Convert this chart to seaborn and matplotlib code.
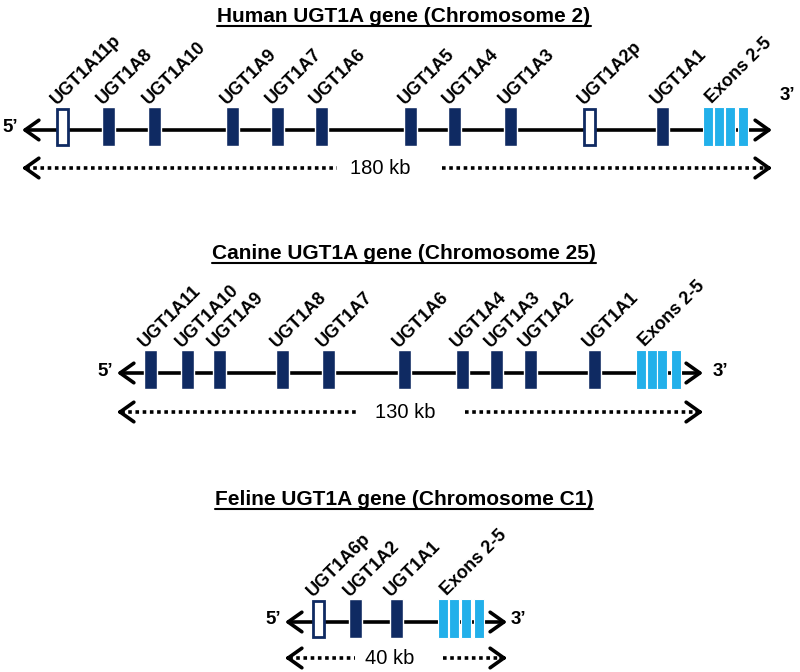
import matplotlib
matplotlib.use("Agg")
import matplotlib.pyplot as plt
import seaborn as sns

# gene loci (horizontal position along each locus map)
human_genes = ["UGT1A11p", "UGT1A8", "UGT1A10", "UGT1A9", "UGT1A7", "UGT1A6",
               "UGT1A5", "UGT1A4", "UGT1A3", "UGT1A2p", "UGT1A1"]
human_pos = [62, 108, 154, 232, 277, 321, 410, 454, 510, 589, 662]
human_pseudo = [True, False, False, False, False, False, False, False, False, True, False]
human_exons = [708, 719, 730, 743]
human_span = (22, 772)
human_kb = "180 kb"

canine_genes = ["UGT1A11", "UGT1A10", "UGT1A9", "UGT1A8", "UGT1A7", "UGT1A6",
                "UGT1A4", "UGT1A3", "UGT1A2", "UGT1A1"]
canine_pos = [150, 187, 219, 282, 328, 404, 462, 496, 530, 594]
canine_pseudo = [False] * 10
canine_exons = [641, 652, 662, 676]
canine_span = (117, 703)
canine_kb = "130 kb"

feline_genes = ["UGT1A6p", "UGT1A2", "UGT1A1"]
feline_pos = [318, 355, 396]
feline_pseudo = [True, False, False]
feline_exons = [443, 454, 466, 479]
feline_span = (285, 507)
feline_kb = "40 kb"

titles = ["Human UGT1A gene (Chromosome 2)",
          "Canine UGT1A gene (Chromosome 25)",
          "Feline UGT1A gene (Chromosome C1)"]

NAVY = "#0f2a62"
LIGHT = "#22b0ea"

sns.set_theme(style="white")
plt.rcParams["font.family"] = ["Liberation Sans", "DejaVu Sans"]
plt.rcParams["text.color"] = "black"

fig = plt.figure(figsize=(8, 6.72), dpi=100)
ax = fig.add_axes([0, 0, 1, 1])
ax.set_xlim(0, 800)
ax.set_ylim(672, 0)
ax.axis("off")

rows = [
    dict(genes=human_genes, pos=human_pos, pseudo=human_pseudo, exons=human_exons,
         span=human_span, kb=human_kb, line_y=130, title_y=22, dot_y=168,
         kb_x=380, gap=(337, 442), five=(10, 128), three=(787, 95)),
    dict(genes=canine_genes, pos=canine_pos, pseudo=canine_pseudo, exons=canine_exons,
         span=canine_span, kb=canine_kb, line_y=373, title_y=259, dot_y=412,
         kb_x=405, gap=(357, 465), five=(105, 371), three=(720, 371)),
    dict(genes=feline_genes, pos=feline_pos, pseudo=feline_pseudo, exons=feline_exons,
         span=feline_span, kb=feline_kb, line_y=622, title_y=505, dot_y=658,
         kb_x=390, gap=(355, 443), five=(273, 620), three=(518, 620)),
]

head = "->,head_length=0.45,head_width=0.32"
title_texts = []
for r, title in zip(rows, titles):
    y = r["line_y"]
    x0, x1 = r["span"]
    # chromosome line with open arrow heads
    ax.annotate("", xy=(x0, y), xytext=(x1, y),
                arrowprops=dict(arrowstyle="<->,head_length=0.45,head_width=0.32",
                                lw=2.6, color="black", shrinkA=0, shrinkB=0,
                                mutation_scale=22), zorder=1)
    top, h = y - 23, 39
    # genes
    for g, px, ps in zip(r["genes"], r["pos"], r["pseudo"]):
        if ps:
            ax.bar(px, h - 3, width=11, bottom=top + 2, color="white",
                   edgecolor=NAVY, linewidth=2, zorder=3)
        else:
            ax.bar(px, h, width=13, bottom=top, color=NAVY, zorder=3)
        ax.text(px - 5, top - 2, g, rotation=45, rotation_mode="anchor",
                ha="left", va="baseline", fontsize=13, fontweight="bold")
    # shared exons 2-5
    ax.bar(r["exons"], h, width=10.5, bottom=top, color=LIGHT,
           edgecolor="white", linewidth=0.8, zorder=3)
    ax.text(r["exons"][0] + 4, top - 3, "Exons 2-5", rotation=45,
            rotation_mode="anchor", ha="left", va="baseline",
            fontsize=13, fontweight="bold")
    ax.text(*r["five"], "5\u2019", ha="center", va="center",
            fontsize=13.5, fontweight="bold")
    ax.text(*r["three"], "3\u2019", ha="center", va="center",
            fontsize=13.5, fontweight="bold")

    # size scale (dotted arrows)
    dy = r["dot_y"]
    g0, g1 = r["gap"]
    ax.plot([x0 + 4, g0], [dy, dy], color="black", lw=2.6, ls=(0, (1, 1)))
    ax.plot([g1, x1 - 4], [dy, dy], color="black", lw=2.6, ls=(0, (1, 1)))
    ax.annotate("", xy=(x0, dy), xytext=(x0 + 6, dy),
                arrowprops=dict(arrowstyle=head, lw=2.6, color="black",
                                shrinkA=0, shrinkB=0, mutation_scale=22))
    ax.annotate("", xy=(x1, dy), xytext=(x1 - 6, dy),
                arrowprops=dict(arrowstyle=head, lw=2.6, color="black",
                                shrinkA=0, shrinkB=0, mutation_scale=22))
    ax.text(r["kb_x"], dy, r["kb"], ha="center", va="center", fontsize=14.5)

    t = ax.text(404, r["title_y"], title, ha="center", va="baseline",
                fontsize=15, fontweight="bold")
    title_texts.append((t, r["title_y"]))

# underline titles
fig.canvas.draw()
renderer = fig.canvas.get_renderer()
inv = ax.transData.inverted()
for t, by in title_texts:
    bb = t.get_window_extent(renderer)
    (lx, _), (rx, _) = inv.transform([(bb.x0, bb.y0), (bb.x1, bb.y0)])
    ax.plot([lx, rx], [by + 3.5, by + 3.5], color="black", lw=1.5)

fig.savefig("out.png", dpi=100, facecolor="white")
